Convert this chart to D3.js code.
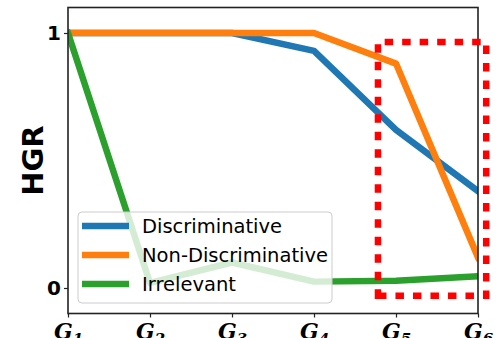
<!DOCTYPE html>
<html>
<head>
<meta charset="utf-8">
<script src="https://cdn.jsdelivr.net/npm/d3@7"></script>
<style>
  html, body { margin: 0; padding: 0; background: #fff; }
  svg { display: block; }
</style>
</head>
<body>
<svg id="chart" width="501" height="338"></svg>
<script>
// Groups along the x axis (G1 … G6)
const groups = ["1", "2", "3", "4", "5", "6"];
const yTicks = [0, 1];

// HGR per group for each feature kind
const discriminative    = [1.0, 1.0, 1.0, 0.93, 0.62, 0.38];
const nonDiscriminative = [1.0, 1.0, 1.0, 1.0, 0.88, 0.12];
const irrelevant        = [1.0, 0.02, 0.10, 0.025, 0.028, 0.046];

const seriesNames  = ["Discriminative", "Non-Discriminative", "Irrelevant"];
const seriesValues = [discriminative, nonDiscriminative, irrelevant];
const seriesColors = ["#1f77b4", "#ff7f0e", "#2ca02c"];

// Highlighted region, in group-index / HGR units
const highlightX = [3.78, 5.1];
const highlightY = [-0.03, 0.965];

const svg = d3.select("#chart");
const plotLeft = 68, plotRight = 478, plotTop = 7.5, plotBottom = 313.5;

const x = d3.scalePoint().domain(groups).range([plotLeft, plotRight]).padding(0);
const xi = d3.scaleLinear().domain([0, groups.length - 1]).range([plotLeft, plotRight]);
const y = d3.scaleLinear().domain([-0.1, 1.1]).range([plotBottom, plotTop]);

svg.append("defs").append("clipPath").attr("id", "plot-clip")
  .append("rect").attr("x", plotLeft).attr("y", plotTop)
  .attr("width", plotRight - plotLeft).attr("height", plotBottom - plotTop);

// Series lines
const line = d3.line().x((d, i) => x(groups[i])).y(d => y(d));
const lines = svg.append("g").attr("clip-path", "url(#plot-clip)");
seriesValues.forEach((vals, k) => {
  lines.append("path")
    .attr("d", line(vals))
    .attr("fill", "none")
    .attr("stroke", seriesColors[k])
    .attr("stroke-width", 6.5)
    .attr("stroke-linejoin", "round")
    .attr("stroke-linecap", "square");
});

// Axes (left and bottom), plus frame on top and right
const yAxis = d3.axisLeft(y).tickValues(yTicks).tickFormat(d3.format("d"))
  .tickSize(4).tickPadding(3);
const gy = svg.append("g").attr("transform", `translate(${plotLeft},0)`).call(yAxis);
gy.select(".domain").remove();
gy.selectAll("line").attr("stroke", "#222").attr("stroke-width", 1.2);
gy.selectAll("text")
  .attr("font-family", "DejaVu Sans")
  .attr("font-weight", "bold")
  .attr("font-size", 20)
  .attr("fill", "#000");

const xAxis = d3.axisBottom(x).tickSize(4).tickPadding(6).tickFormat("");
const gx = svg.append("g").attr("transform", `translate(0,${plotBottom})`).call(xAxis);
gx.select(".domain").remove();
gx.selectAll("line").attr("stroke", "#222").attr("stroke-width", 1.2);

// Group labels G with subscript index
gx.selectAll(".tick").append("text")
  .attr("y", 25)
  .attr("text-anchor", "middle")
  .attr("font-family", "DejaVu Serif")
  .attr("font-weight", "bold")
  .attr("font-style", "italic")
  .attr("font-size", 22)
  .attr("fill", "#000")
  .each(function(d) {
    const t = d3.select(this);
    t.append("tspan").text("G");
    t.append("tspan").attr("font-size", 15).attr("dy", 5).text(d);
  });

svg.append("rect")
  .attr("x", plotLeft).attr("y", plotTop)
  .attr("width", plotRight - plotLeft).attr("height", plotBottom - plotTop)
  .attr("fill", "none").attr("stroke", "#222").attr("stroke-width", 1.6);

// Y axis title
svg.append("text")
  .attr("transform", `translate(43,${(plotTop + plotBottom) / 2}) rotate(-90)`)
  .attr("text-anchor", "middle")
  .attr("font-family", "DejaVu Sans")
  .attr("font-weight", "bold")
  .attr("font-size", 29)
  .attr("fill", "#000")
  .text("HGR");

// Legend
const legend = svg.append("g");
legend.append("rect")
  .attr("x", 78).attr("y", 212).attr("width", 254).attr("height", 91)
  .attr("rx", 4).attr("ry", 4)
  .attr("fill", "#fff").attr("fill-opacity", 0.8)
  .attr("stroke", "#ccc").attr("stroke-width", 1);
seriesNames.forEach((name, k) => {
  const cy = 226 + k * 29;
  legend.append("line")
    .attr("x1", 82).attr("x2", 129).attr("y1", cy).attr("y2", cy)
    .attr("stroke", seriesColors[k]).attr("stroke-width", 6.5);
  legend.append("text")
    .attr("x", 142).attr("y", cy + 7)
    .attr("font-family", "DejaVu Sans")
    .attr("font-size", 19.5)
    .attr("fill", "#000")
    .text(name);
});

// Dashed highlight box over the last groups
const hx0 = xi(highlightX[0]), hx1 = xi(highlightX[1]);
const hy0 = y(highlightY[0]), hy1 = y(highlightY[1]);
svg.append("path")
  .attr("d", `M${hx0},${hy0}L${hx1},${hy0}L${hx1},${hy1}L${hx0},${hy1}Z`)
  .attr("fill", "none")
  .attr("stroke", "#ff0000")
  .attr("stroke-width", 6.5)
  .attr("stroke-dasharray", "8.5,9");
</script>
</body>
</html>
